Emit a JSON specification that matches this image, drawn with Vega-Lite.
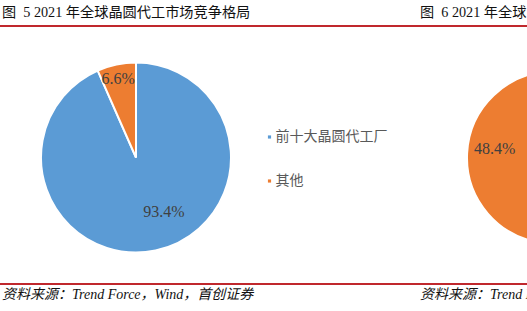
{
  "$schema": "https://vega.github.io/schema/vega-lite/v6.json",
  "background": "white",
  "padding": {"left": 0, "top": 5, "right": 0, "bottom": 0},
  "bounds": "full",
  "spacing": 0,
  "config": {
    "view": {"stroke": null},
    "title": {"font": "Liberation Serif, Noto Sans CJK SC", "fontSize": 14.2, "fontWeight": "normal", "color": "#111111", "anchor": "start", "offset": 5}
  },
  "datasets": {
    "left": [
      {"cat": "前十大晶圆代工厂", "share": 0.934, "ord": 1},
      {"cat": "其他", "share": 0.066, "ord": 2}
    ],
    "right": [
      {"cat": "其余", "share": 0.516, "ord": 1},
      {"cat": "其他", "share": 0.484, "ord": 2}
    ],
    "bar": [{"k": 1}]
  },
  "vconcat": [
    {
      "bounds": "flush",
      "spacing": 0,
      "hconcat": [
        {
          "width": 418, "height": 2,
          "data": {"name": "bar"},
          "mark": {"type": "rect", "color": "#c0282d"},
          "encoding": {},
          "title": {"text": "图\u00a0 5 2021 年全球晶圆代工市场竞争格局", "dx": 2}
        },
        {
          "width": 270, "height": 2,
          "data": {"name": "bar"},
          "mark": {"type": "rect", "color": "#c0282d"},
          "encoding": {},
          "title": {"text": "图\u00a0 6 2021 年全球晶圆代工市场份额", "dx": 2}
        }
      ]
    },
    {
      "width": 10, "height": 5,
      "data": {"name": "bar"},
      "mark": {"type": "rect", "opacity": 0},
      "encoding": {}
    },
    {
      "bounds": "flush",
      "spacing": 146,
      "resolve": {"scale": {"color": "independent"}, "legend": {"color": "independent"}},
      "hconcat": [
        {
          "width": 272, "height": 251,
          "data": {"name": "left"},
          "layer": [
            {
              "mark": {"type": "arc", "outerRadius": 95, "stroke": "white", "strokeWidth": 2},
              "encoding": {
                "theta": {"field": "share", "type": "quantitative", "stack": true},
                "color": {
                  "field": "cat", "type": "nominal",
                  "sort": ["前十大晶圆代工厂", "其他"],
                  "scale": {"domain": ["前十大晶圆代工厂", "其他"], "range": ["#5b9bd5", "#ed7d31"]},
                  "legend": {
                    "orient": "none", "legendX": 262.5, "legendY": 98, "title": null,
                    "symbolType": "square", "symbolSize": 10, "symbolStrokeWidth": 0,
                    "labelFont": "Noto Sans CJK SC", "labelFontSize": 14, "labelColor": "#595959",
                    "rowPadding": 30, "labelOffset": -1
                  }
                },
                "order": {"field": "ord", "type": "quantitative"}
              }
            },
            {
              "mark": {"type": "text", "radius": 61, "thetaOffset": -0.27, "font": "Liberation Serif", "fontSize": 16, "color": "#404040"},
              "encoding": {
                "theta": {"field": "share", "type": "quantitative", "stack": true},
                "detail": {"field": "cat", "type": "nominal"},
                "order": {"field": "ord", "type": "quantitative"},
                "text": {"condition": {"test": "datum.cat === '前十大晶圆代工厂'", "field": "share", "type": "quantitative", "format": ".1%"}, "value": ""}
              }
            },
            {
              "mark": {"type": "text", "radius": 80.5, "thetaOffset": -0.017, "font": "Liberation Serif", "fontSize": 16, "color": "#404040"},
              "encoding": {
                "theta": {"field": "share", "type": "quantitative", "stack": true},
                "detail": {"field": "cat", "type": "nominal"},
                "order": {"field": "ord", "type": "quantitative"},
                "text": {"condition": {"test": "datum.cat === '其他'", "field": "share", "type": "quantitative", "format": ".1%"}, "value": ""}
              }
            }
          ]
        },
        {
          "width": 270, "height": 251,
          "data": {"name": "right"},
          "layer": [
            {
              "mark": {"type": "arc", "outerRadius": 86, "stroke": "white", "strokeWidth": 2},
              "encoding": {
                "theta": {"field": "share", "type": "quantitative", "stack": true},
                "color": {
                  "field": "cat", "type": "nominal",
                  "scale": {"domain": ["其余", "其他"], "range": ["#5b9bd5", "#ed7d31"]},
                  "legend": null
                },
                "order": {"field": "ord", "type": "quantitative"}
              }
            },
            {
              "mark": {"type": "text", "radius": 59, "thetaOffset": 0.1, "font": "Liberation Serif", "fontSize": 16, "color": "#404040"},
              "encoding": {
                "theta": {"field": "share", "type": "quantitative", "stack": true},
                "detail": {"field": "cat", "type": "nominal"},
                "order": {"field": "ord", "type": "quantitative"},
                "text": {"condition": {"test": "datum.cat === '其他'", "field": "share", "type": "quantitative", "format": ".1%"}, "value": ""}
              }
            }
          ]
        }
      ]
    },
    {
      "bounds": "flush",
      "spacing": 0,
      "hconcat": [
        {
          "width": 418, "height": 2,
          "data": {"name": "bar"},
          "mark": {"type": "rect", "color": "#c0282d"},
          "encoding": {},
          "title": {"text": "资料来源：Trend Force，Wind，首创证券", "orient": "bottom", "dx": 2, "fontSize": 14, "fontStyle": "italic", "offset": 3}
        },
        {
          "width": 270, "height": 2,
          "data": {"name": "bar"},
          "mark": {"type": "rect", "color": "#c0282d"},
          "encoding": {},
          "title": {"text": "资料来源：Trend Force，Wind，首创证券", "orient": "bottom", "dx": 2, "fontSize": 14, "fontStyle": "italic", "offset": 3}
        }
      ]
    }
  ]
}
